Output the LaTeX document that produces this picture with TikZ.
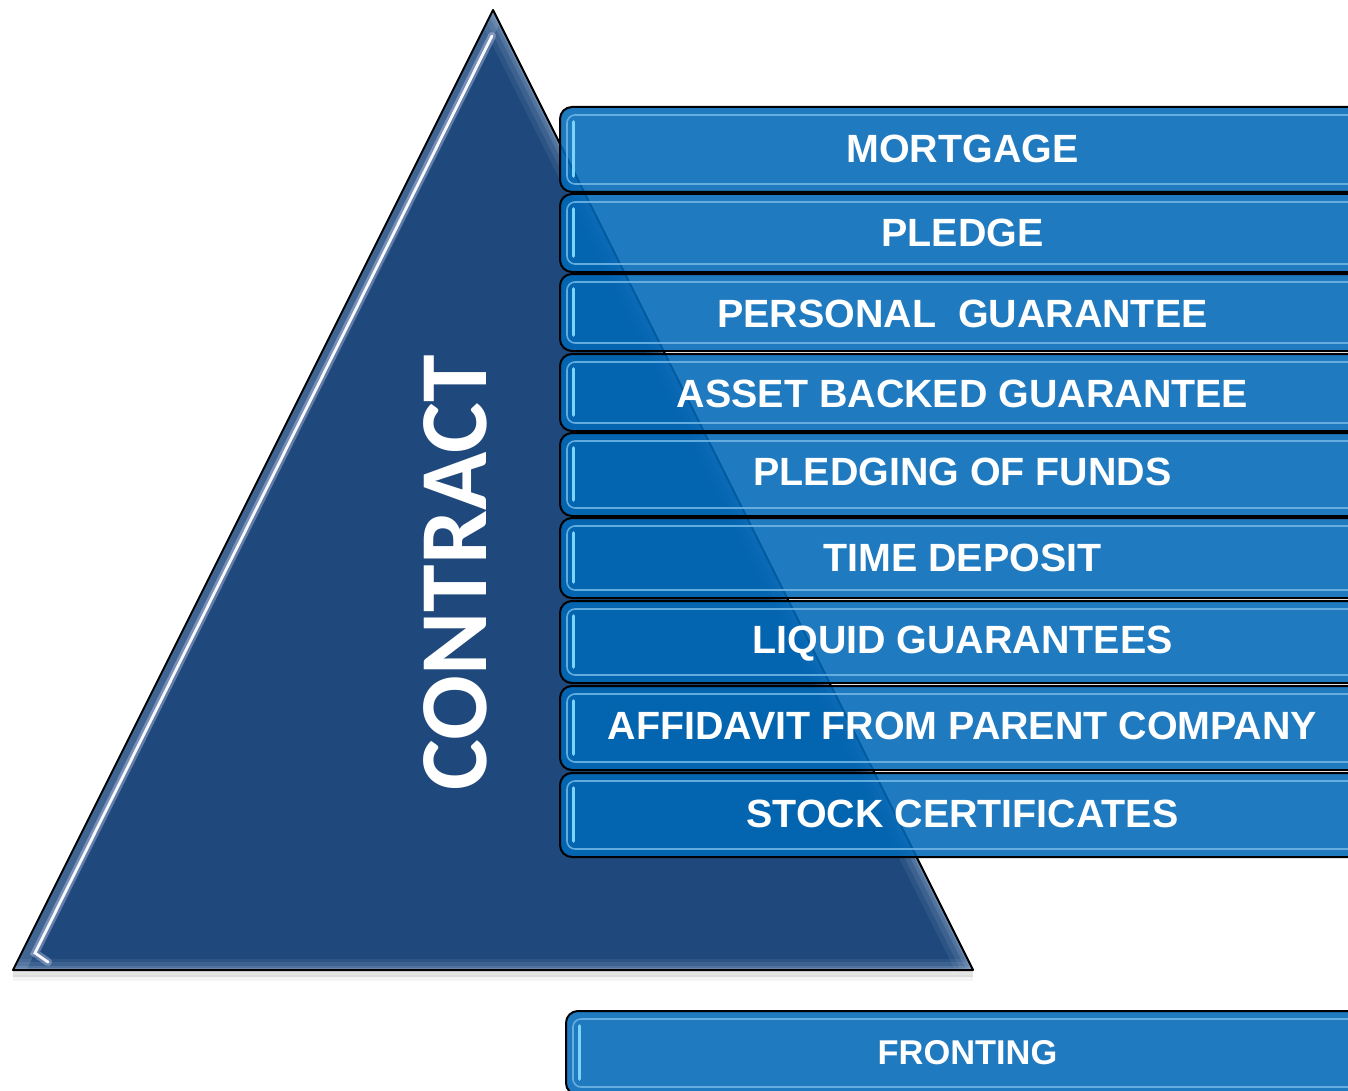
\documentclass[tikz,border=0pt]{standalone}
\usepackage{fontspec}
\setsansfont{Liberation Sans}
\newfontfamily\titlefont{Carlito}
\definecolor{pyrblue}{RGB}{31,73,124}
\definecolor{barblue}{RGB}{0,104,184}
\definecolor{barline}{RGB}{110,180,228}
\definecolor{barglint}{RGB}{125,212,250}
\definecolor{edgeglow}{RGB}{165,188,215}
\begin{document}
\begin{tikzpicture}[x=0.5pt,y=-0.5pt,
  pyramid/.style={draw=black,line width=1pt,line join=round},
  bar/.style={draw=black,line width=1pt,fill=barblue,fill opacity=0.88,
    rounded corners=6pt,inner sep=0pt,outer sep=0pt,anchor=north west,
    minimum width=402pt},
  barinner/.style={draw=barline,line width=0.8pt,rounded corners=4pt,opacity=0.9},
  glint/.style={draw=barglint,line width=1.8pt,line cap=round},
  barlabel/.style={text=white,anchor=base,inner sep=0pt,
    font=\sffamily\bfseries\fontsize{19.7}{22}\selectfont},
  smalllabel/.style={barlabel,font=\sffamily\bfseries\fontsize{17.2}{20}\selectfont},
  title/.style={text=white,inner sep=0pt,rotate=90,
    font=\titlefont\bfseries\fontsize{48}{50}\selectfont}]

\useasboundingbox (0,0) rectangle (1348,1091);
\fill[white] (0,0) rectangle (1348,1091);
\clip (0,0) rectangle (1348,1091);

% ---------- pyramid ----------
\coordinate (apex) at (493,10);
\coordinate (bl) at (13,970);
\coordinate (br) at (973,970);

% soft shadow under the base
\draw[black,opacity=0.10,line width=3pt] ([yshift=-2pt]bl) -- ([yshift=-2pt]br);
\draw[black,opacity=0.04,line width=3pt] ([yshift=-4pt]bl) -- ([yshift=-4pt]br);

\begin{scope}
  \clip (apex) -- (bl) -- (br) -- cycle;
  \fill[pyrblue] (apex) -- (bl) -- (br) -- cycle;
  % lighter rim along the right side and the base
  \foreach \w/\o in {16/0.10,11/0.14,6/0.20,2.5/0.25}{
    \draw[edgeglow,opacity=\o,line width=\w pt] (apex) -- (br);
    \draw[edgeglow,opacity=\o,line width=0.7*\w pt] (bl) -- (br);
  }
  % rim along the left side
  \draw[edgeglow,opacity=0.25,line width=12pt] (apex) -- (bl);
  % glossy highlight parallel to the left side
  \draw[white!70!blue!40,opacity=0.35,line width=4pt,line cap=round]
    (492,36) -- (35,953) -- (48,962);
  \draw[white,opacity=0.95,line width=1.4pt,line cap=round]
    (492,36) -- (35,953) -- (48,962);
\end{scope}
\draw[pyramid] (apex) -- (bl) -- (br) -- cycle;

\node[title] (contract) at (455.5,572.5) {CONTRACT};

% ---------- bars ----------
\newcommand\glossbar[4]{% name, x, top, height (pt)
  \node[bar,minimum height=#4] (#1) at (#2,#3) {};
  \draw[barinner] ([shift={(3.5pt,-4pt)}]#1.north west)
    rectangle ([shift={(-3.5pt,4pt)}]#1.south east);
  \draw[glint] ([shift={(6.8pt,-7.5pt)}]#1.north west)
    -- ([shift={(6.8pt,8pt)}]#1.south west);
}

\glossbar{b1}{560}{107}{42.5pt}
\glossbar{b2}{560}{194}{39pt}
\glossbar{b3}{560}{274}{38.5pt}
\glossbar{b4}{560}{354}{38.5pt}
\glossbar{b5}{560}{433}{41.5pt}
\glossbar{b6}{560}{518}{40pt}
\glossbar{b7}{560}{601}{41pt}
\glossbar{b8}{560}{686}{42pt}
\glossbar{b9}{560}{773}{42pt}
\glossbar{b10}{566}{1011}{42pt}

\node[barlabel] (t1) at (962.5,163) {MORTGAGE};
\node[barlabel] (t2) at (962.5,247) {PLEDGE};
\node[barlabel] (t3) at (962.5,327) {PERSONAL\ \ GUARANTEE};
\node[barlabel] (t4) at (962.5,407) {ASSET BACKED GUARANTEE};
\node[barlabel] (t5) at (962.5,485) {PLEDGING OF FUNDS};
\node[barlabel] (t6) at (962.5,571) {TIME DEPOSIT};
\node[barlabel] (t7) at (962.5,653) {LIQUID GUARANTEES};
\node[barlabel] (t8) at (962.5,739) {AFFIDAVIT FROM PARENT COMPANY};
\node[barlabel] (t9) at (962.5,827) {STOCK CERTIFICATES};
\node[smalllabel] (t10) at (967.5,1064) {FRONTING};
\end{tikzpicture}
\end{document}
